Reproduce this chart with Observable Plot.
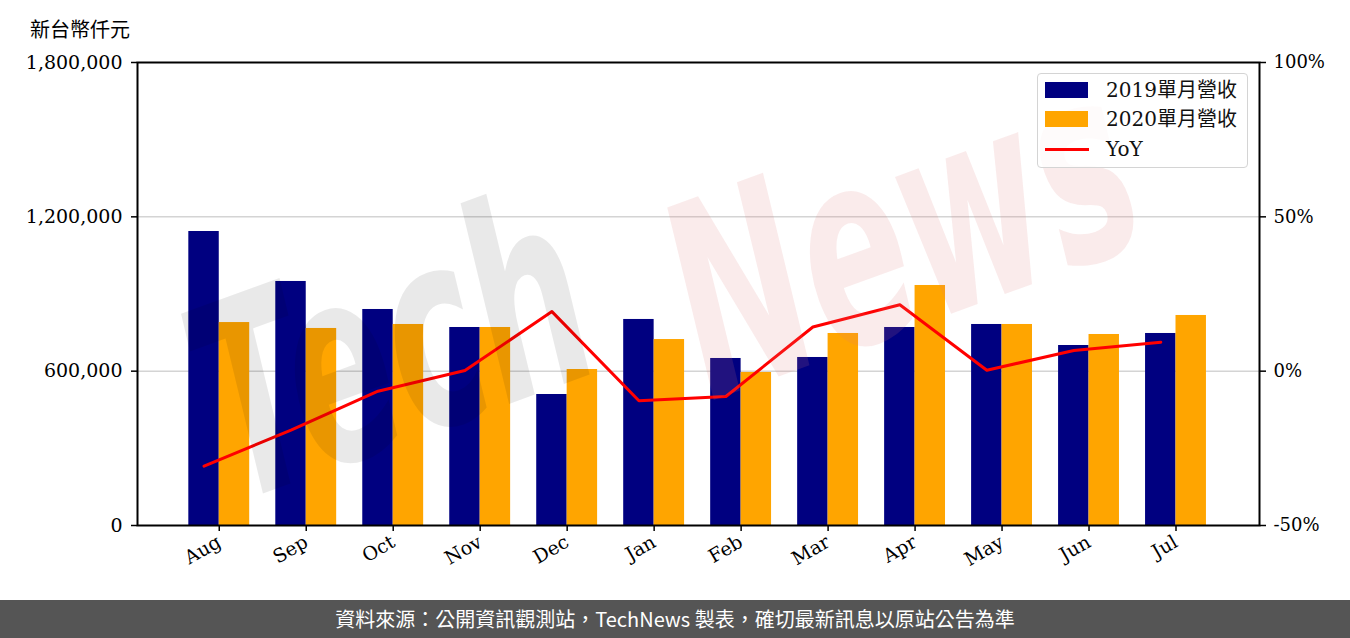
<!DOCTYPE html>
<html>
<head>
<meta charset="utf-8">
<script src="https://cdn.jsdelivr.net/npm/d3@7"></script>
<script src="https://cdn.jsdelivr.net/npm/@observablehq/plot@0.6"></script>
<style>
  html, body { margin: 0; padding: 0; background: #fff; }
  #wrap { position: relative; width: 1350px; height: 638px; overflow: hidden; }
  #unit { position: absolute; left: 30px; top: 14px; font: 20px "DejaVu Serif", "Noto Sans CJK TC", serif; color: #000; }
  #legend { position: absolute; left: 1037px; top: 73px; width: 209px; height: 93px; border: 1.5px solid #d4d4d4; border-radius: 4px; background: rgba(255,255,255,0.8); font: 20px "DejaVu Serif", "Noto Sans CJK TC", serif; color: #111; }
  .sw { position: absolute; left: 7px; width: 43px; height: 16px; }
  .ln { position: absolute; left: 7px; width: 44px; height: 3px; background: #ff0000; }
  .lab { position: absolute; left: 68px; white-space: nowrap; line-height: 24px; }
  #footer { position: absolute; left: 0; top: 600px; width: 1350px; height: 38px; background: #555555; color: #fff; font: 20px "Noto Sans CJK TC", "Noto Sans", sans-serif; text-align: center; line-height: 38px; }
</style>
</head>
<body>
<div id="wrap">
  <div id="chart"></div>
  <div id="unit">新台幣仟元</div>
  <div id="legend"></div>
  <div id="footer">資料來源：公開資訊觀測站，TechNews 製表，確切最新訊息以原站公告為準</div>
</div>
<script>
const months = ["Aug","Sep","Oct","Nov","Dec","Jan","Feb","Mar","Apr","May","Jun","Jul"];
const rev2019 = [1143000, 948700, 839800, 769800, 509300, 801000, 649300, 653200, 769800, 781500, 699800, 746500];
const rev2020 = [789000, 766000, 781500, 769800, 606500, 723000, 594900, 746500, 933100, 781500, 742600, 816500];
const yoyPct = [-30.8, -19.1, -6.5, 0.2, 19.3, -9.6, -8.2, 14.3, 21.5, 0.3, 6.7, 9.4];
const leftTicks = [0, 600000, 1200000, 1800000];
const rightTicks = [-50, 0, 50, 100];
const seriesNames = ["2019單月營收", "2020單月營收", "YoY"];
const colors = ["#000080", "#ffa500", "#ff0000"];

// right axis (%) mapped onto the left revenue scale: 0% ↔ 600,000 ; 50% ↔ 1,200,000
const pctToRev = p => 600000 + p * 12000;
const revToPct = v => (v - 600000) / 12000;

const bars = [];
months.forEach((m, i) => {
  bars.push({i, x1: i - 0.35, x2: i, v: rev2019[i], s: 0});
  bars.push({i, x1: i, x2: i + 0.35, v: rev2020[i], s: 1});
});
const line = months.map((m, i) => ({x: i - 0.175, y: pctToRev(yoyPct[i])}));

const serif = "'DejaVu Serif', 'Noto Sans CJK TC', serif";

const chart = Plot.plot({
  width: 1350,
  height: 600,
  marginLeft: 137,
  marginRight: 91,
  marginTop: 62,
  marginBottom: 75,
  style: {fontFamily: serif, fontSize: "19px", color: "#000", background: "transparent"},
  x: {domain: [-0.94, 11.96], axis: null},
  y: {domain: [0, 1800000], axis: null},
  marks: [
    Plot.ruleY([600000, 1200000], {stroke: "#d4d4d4", strokeWidth: 1.5}),
    Plot.rectY(bars, {x1: "x1", x2: "x2", y1: 0, y2: "v", fill: d => colors[d.s]}),
    Plot.line(line, {x: "x", y: "y", stroke: colors[2], strokeWidth: 3}),
    Plot.text(["Tech"], {frameAnchor: "middle", text: d => d, dx: -305, dy: 60, rotate: -20, fontSize: 200, fontStyle: "italic", fontWeight: "bold", fontFamily: "DejaVu Sans", fill: "#000", fillOpacity: 0.085, className: "wm"}),
    Plot.text(["News"], {frameAnchor: "middle", text: d => d, dx: 205, dy: -55, rotate: -20, fontSize: 200, fontStyle: "italic", fontWeight: "bold", fontFamily: "DejaVu Sans", fill: "#e07878", fillOpacity: 0.15, className: "wm"}),
    Plot.frame({stroke: "#000", strokeWidth: 2}),
    Plot.axisY(leftTicks, {anchor: "left", tickSize: 6, tickPadding: 9, strokeWidth: 1.5, tickFormat: d => d3.format(",")(d), fontSize: 19}),
    Plot.axisY(leftTicks, {anchor: "right", tickSize: 6, tickPadding: 8, strokeWidth: 1.5, tickFormat: d => revToPct(d) + "%", fontSize: 18}),
    Plot.axisX(d3.range(months.length), {anchor: "bottom", tickSize: 6, tickPadding: 9, strokeWidth: 1.5, tickRotate: -30, tickFormat: i => months[i], fontSize: 19})
  ]
});
document.getElementById("chart").appendChild(chart);

// make watermark letters tall and narrow like a brush script
d3.select(chart).selectAll(".wm text").each(function() {
  const t = this.getAttribute("transform") || "";
  this.setAttribute("transform", t + " scale(0.78,1.35)");
});

// legend
const lg = document.getElementById("legend");
const rowsY = [4, 33, 63];
seriesNames.forEach((name, k) => {
  const row = document.createElement("div");
  row.style.position = "absolute";
  row.style.left = "0px";
  row.style.top = rowsY[k] + "px";
  row.style.width = "209px";
  row.style.height = "24px";
  const sw = document.createElement("div");
  if (k < 2) {
    sw.className = "sw";
    sw.style.top = "4px";
    sw.style.background = colors[k];
  } else {
    sw.className = "ln";
    sw.style.top = "11px";
  }
  const lab = document.createElement("div");
  lab.className = "lab";
  lab.style.top = "0px";
  lab.textContent = name;
  row.appendChild(sw);
  row.appendChild(lab);
  lg.appendChild(row);
});
</script>
</body>
</html>
